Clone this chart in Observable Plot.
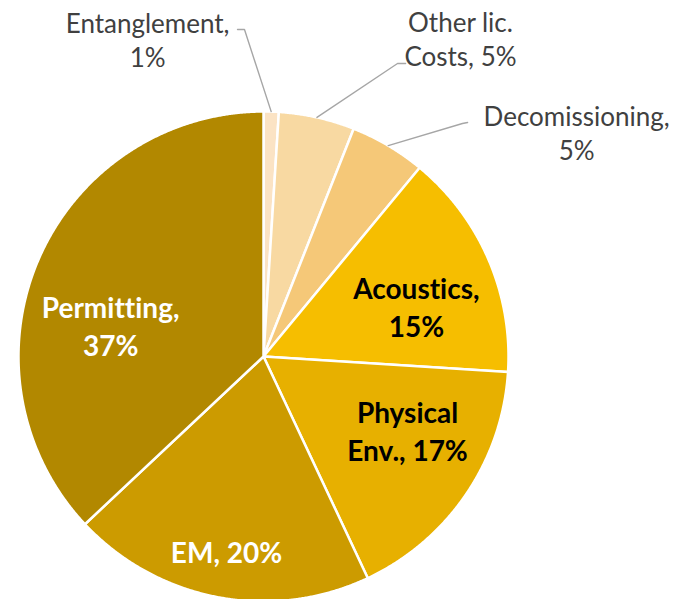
<!DOCTYPE html>
<html>
<head>
<meta charset="utf-8">
<script src="https://cdn.jsdelivr.net/npm/d3@7"></script>
<script src="https://cdn.jsdelivr.net/npm/@observablehq/plot@0.6"></script>
<style>
  html, body { margin: 0; padding: 0; background: #ffffff; }
  #chart svg { display: block; }
  #chart svg text { font-variant-ligatures: none; font-feature-settings: "liga" 0, "clig" 0; }
</style>
</head>
<body>
<div id="chart"></div>
<script>
// ---- data ----
const categories = ["Entanglement", "Other lic. Costs", "Decomissioning", "Acoustics", "Physical Env.", "EM", "Permitting"];
const shares = [1, 5, 5, 15, 17, 20, 37];
const labelTexts = ["Entanglement,\n1%", "Other lic.\nCosts, 5%", "Decomissioning,\n5%", "Acoustics,\n15%", "Physical\nEnv., 17%", "EM, 20%", "Permitting,\n37%"];
const sliceColors = ["#fbe3c4", "#f8d9a2", "#f5c878", "#f6be00", "#e7b000", "#cc9b00", "#b28800"];
const outsideSet = ["Entanglement", "Other lic. Costs", "Decomissioning"];
const darkTextSet = ["Acoustics", "Physical Env."];

// ---- layout (pie-radius units, relative to the pie centre) ----
const labelAnchor = {
  "Entanglement": [-0.473, 1.297],
  "Other lic. Costs": [0.804, 1.301],
  "Decomissioning": [1.278, 0.917],
  "Acoustics": [0.624, 0.205],
  "Physical Env.": [0.588, -0.301],
  "EM": [-0.151, -0.795],
  "Permitting": [-0.624, 0.130]
};
const leaderBend = {
  "Entanglement": [[-0.0776, 1.3347], [-0.106, 1.3347]],
  "Other lic. Costs": [[0.547, 1.196], [0.580, 1.196]],
  "Decomissioning": [[0.812, 0.951], [0.833, 0.955]]
};

const total = d3.sum(shares);
const slicePts = [];
const leaderPts = [];
let acc = 0;
categories.forEach((c, i) => {
  const a0 = acc / total * 2 * Math.PI;
  acc += shares[i];
  const a1 = acc / total * 2 * Math.PI;
  slicePts.push({category: c, x: 0, y: 0});
  const n = Math.max(2, Math.ceil((a1 - a0) / (Math.PI / 720)));
  for (let k = 0; k <= n; k++) {
    const a = a0 + (a1 - a0) * k / n;
    slicePts.push({category: c, x: Math.sin(a), y: Math.cos(a)});
  }
  slicePts.push({category: c, x: 0, y: 0});
  if (leaderBend[c]) {
    const am = (a0 + a1) / 2;
    leaderPts.push({category: c, x: Math.sin(am), y: Math.cos(am)});
    for (const [bx, by] of leaderBend[c]) leaderPts.push({category: c, x: bx, y: by});
  }
});

const labels = categories.map((c, i) => ({
  category: c,
  text: labelTexts[i],
  x: labelAnchor[c][0],
  y: labelAnchor[c][1]
}));
const outside = labels.filter(d => outsideSet.includes(d.category));
const inside = labels.filter(d => !outsideSet.includes(d.category));

const font = "Lato, 'Open Sans', sans-serif";

const chart = Plot.plot({
  width: 689,
  height: 599,
  margin: 0,
  style: {background: "#ffffff"},
  x: {domain: [-263 / 245, (689 - 263) / 245], axis: null},
  y: {domain: [-(599 - 356) / 245, 356 / 245], axis: null},
  color: {domain: categories, range: sliceColors},
  marks: [
    Plot.line(slicePts, {x: "x", y: "y", z: "category", fill: "category", stroke: "#ffffff", strokeWidth: 2.5, curve: "linear"}),
    Plot.line(leaderPts, {x: "x", y: "y", z: "category", stroke: "#a6a6a6", strokeWidth: 1.4, curve: "linear"}),
    Plot.text(outside, {x: "x", y: "y", text: "text", fill: "#404040", fontSize: 26, fontFamily: font, lineHeight: 1.31, lineAnchor: "middle", textAnchor: "middle"}),
    Plot.text(inside, {x: "x", y: "y", text: "text", fill: d => darkTextSet.includes(d.category) ? "#000000" : "#ffffff", fontSize: 28, fontWeight: "bold", fontFamily: font, lineHeight: 1.36, lineAnchor: "middle", textAnchor: "middle"})
  ]
});
document.getElementById("chart").appendChild(chart);
</script>
</body>
</html>
